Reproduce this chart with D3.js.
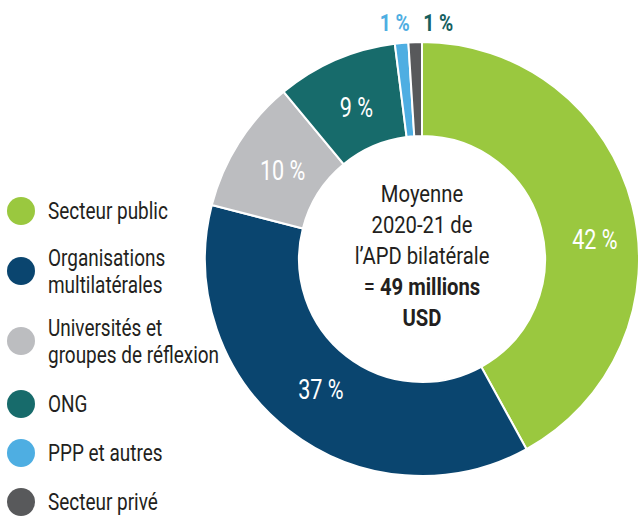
<!DOCTYPE html>
<meta charset="utf-8">
<html lang="fr">
<head>
    <script src="https://d3js.org/d3.v7.min.js"></script>
    <style>
        body { margin: 0; background: #fff; }
        svg text { font-family: Roboto, "Liberation Sans", sans-serif; }
    </style>
</head>
<body>
    <svg width="638" height="516"></svg>
    <script>
        // Data
        var categories = ["Secteur public", "Organisations multilatérales", "Universités et groupes de réflexion", "ONG", "PPP et autres", "Secteur privé"];
        var values = [42, 37, 10, 9, 1, 1];
        var labels = ["42 %", "37 %", "10 %", "9 %", "1 %", "1 %"];
        var legendLines = [["Secteur public"], ["Organisations", "multilatérales"], ["Universités et", "groupes de réflexion"], ["ONG"], ["PPP et autres"], ["Secteur privé"]];
        var colors = ["#9ac83f", "#0a456f", "#bcbdc0", "#176b6b", "#4eaee2", "#58595b"];
        var centerLines = ["Moyenne", "2020-21 de", "l’APD bilatérale"];
        var centerBold = ["49 millions", "USD"];

        var svg = d3.select("svg");
        var cx = 422, cy = 259, rOuter = 217, rInner = 123;

        var color = d3.scaleOrdinal().domain(categories).range(colors);

        var pie = d3.pie().sort(null).value(function(d) { return d.value; });
        var data = categories.map(function(c, i) { return { name: c, value: values[i], label: labels[i] }; });
        var arcs = pie(data);

        var arc = d3.arc().innerRadius(rInner).outerRadius(rOuter);

        var g = svg.append("g").attr("transform", "translate(" + cx + "," + cy + ")");

        g.selectAll("path")
            .data(arcs)
            .enter().append("path")
            .attr("d", arc)
            .attr("fill", function(d) { return color(d.data.name); })
            .attr("stroke", "#fff")
            .attr("stroke-width", 2);

        // Slice labels
        function labelPos(d, i) {
            var a = (d.startAngle + d.endAngle) / 2, r = 165;
            if (i === 0) { a += 0.14; r = 174; }
            if (d.data.value <= 2) {
                var x = Math.sin(a) * 248 + (i === 4 ? -4 : 24);
                return [x, -(cy - 22)];
            }
            return [Math.sin(a) * r, -Math.cos(a) * r];
        }

        g.selectAll(".lbl")
            .data(arcs)
            .enter().append("text")
            .attr("class", "lbl")
            .attr("transform", function(d, i) {
                var p = labelPos(d, i);
                return "translate(" + p[0] + "," + p[1] + ") scale(0.8,1)";
            })
            .attr("text-anchor", "middle")
            .attr("dy", "0.36em")
            .style("font-size", function(d) { return d.data.value > 2 ? "27px" : "24px"; })
            .style("font-weight", function(d) { return d.data.value > 2 ? "normal" : "bold"; })
            .attr("fill", function(d, i) { return d.data.value > 2 ? "#fff" : (i === 4 ? "#4eaee2" : "#15605f"); })
            .text(function(d) { return d.data.label; });

        // Centre text
        var ct = svg.append("text")
            .attr("transform", "translate(" + cx + ",0) scale(0.88,1)")
            .attr("text-anchor", "middle")
            .style("font-size", "23px")
            .attr("fill", "#231f20");
        centerLines.forEach(function(t, i) {
            ct.append("tspan").attr("x", 0).attr("y", 202 + i * 31).text(t);
        });
        var eq = ct.append("tspan").attr("x", 0).attr("y", 202 + 3 * 31);
        eq.append("tspan").text("= ");
        eq.append("tspan").style("font-weight", "bold").text(centerBold[0]);
        ct.append("tspan").attr("x", 0).attr("y", 202 + 4 * 31).style("font-weight", "bold").text(centerBold[1]);

        // Legend
        var legendY = [211, 271, 341, 404, 453, 502];
        var legend = svg.append("g").selectAll("g")
            .data(categories)
            .enter().append("g")
            .attr("transform", function(d, i) { return "translate(0," + legendY[i] + ")"; });

        legend.append("circle")
            .attr("cx", 21)
            .attr("cy", 0)
            .attr("r", 14)
            .attr("fill", function(d) { return color(d); });

        legend.append("text")
            .attr("transform", "translate(48,0) scale(0.79,1)")
            .style("font-size", "24px")
            .attr("fill", "#231f20")
            .each(function(d, i) {
                var lines = legendLines[i];
                var t = d3.select(this);
                lines.forEach(function(l, j) {
                    t.append("tspan")
                        .attr("x", 0)
                        .attr("y", (j - (lines.length - 1) / 2) * 27)
                        .attr("dy", "0.35em")
                        .text(l);
                });
            });
    </script>
</body>
</html>
